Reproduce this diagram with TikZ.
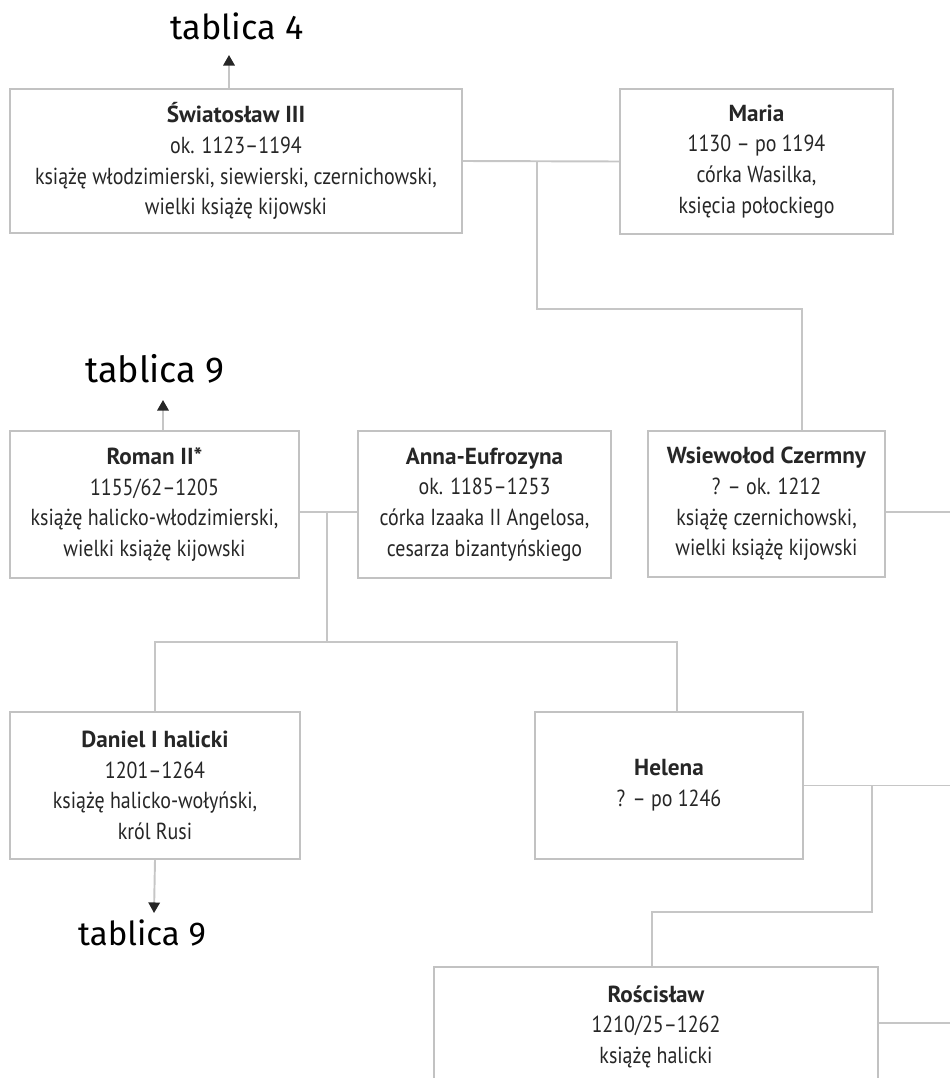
\documentclass[tikz,border=0pt]{standalone}
\usepackage{fontspec}
\setmainfont{PT Sans}[FakeStretch=0.86]
\newfontfamily\imiefont{PT Sans}
\newfontfamily\tabfont{Fira Sans}
\usetikzlibrary{arrows.meta,positioning,calc}
\definecolor{ramka}{HTML}{C2C2C2}
\definecolor{linia}{HTML}{C6C6C6}
\definecolor{tekst}{HTML}{262626}
\newcommand\imie[1]{{\imiefont\bfseries #1}}

\tikzset{
  osoba/.style={draw=ramka,line width=1.1pt,align=center,inner sep=0pt,text=tekst,
    font=\fontsize{13.2}{17.5}\selectfont},
  wiez/.style={draw=linia,line width=1.1pt},
  odsylacz/.style={wiez,-{Triangle[length=6pt,width=6.5pt,color=black!85]}},
  tablica/.style={font=\tabfont\fontsize{19.5}{19.5}\selectfont,text=black,inner sep=0pt}
}

\begin{document}
\begin{tikzpicture}[x=0.02cm,y=-0.02cm]
  \useasboundingbox (0,0) rectangle (950,1078);
  \clip (0,0) rectangle (950,1078);
  \coordinate (prawy) at (950,0);

  % pokolenie I
  \node[osoba,minimum width=9.04cm,minimum height=2.88cm] (swiat) at (236,161)
    {\imie{Światosław III}\\ok. 1123–1194\\książę włodzimierski, siewierski, czernichowski,\\wielki książę kijowski};
  \node[osoba,minimum width=5.46cm,minimum height=2.9cm] (maria) at (756.5,161.5)
    {\imie{Maria}\\1130 – po 1194\\córka Wasilka,\\księcia połockiego};
  \node[tablica,anchor=base] (t4) at (237,40) {tablica 4};

  % pokolenie II
  \node[osoba,minimum width=5.78cm,minimum height=2.94cm] (roman) at (154.5,504.5)
    {\imie{Roman II*}\\1155/62–1205\\książę halicko-włodzimierski,\\wielki książę kijowski};
  \node[osoba,minimum width=5.06cm,minimum height=2.94cm] (anna) at (484.5,504.5)
    {\imie{Anna-Eufrozyna}\\ok. 1185–1253\\córka Izaaka II Angelosa,\\cesarza bizantyńskiego};
  \node[osoba,minimum width=4.74cm,minimum height=2.92cm] (wsiew) at (766.5,504)
    {\imie{Wsiewołod Czermny}\\? – ok. 1212\\książę czernichowski,\\wielki książę kijowski};
  \node[tablica,anchor=base,font=\tabfont\fontsize{20.5}{20.5}\selectfont] (t9a) at (155,382) {tablica 9};

  % pokolenie III
  \node[osoba,minimum width=5.8cm,minimum height=2.94cm] (daniel) at (155,785.5)
    {\imie{Daniel I halicki}\\1201–1264\\książę halicko-wołyński,\\król Rusi};
  \node[osoba,minimum width=5.36cm,minimum height=2.94cm] (helena) at (669,785.5)
    {\imie{Helena}\\? – po 1246};
  \node[tablica,anchor=base,font=\tabfont\fontsize{18.8}{18.8}\selectfont] (t9b) at (142,945) {tablica 9};

  % pokolenie IV
  \node[osoba,minimum width=8.88cm,minimum height=2.92cm] (roscis) at (656,1040)
    {\imie{Rościsław}\\1210/25–1262\\książę halicki\\\mbox{}};

  % odsylacze
  \draw[odsylacz] ([xshift=-0.14cm]swiat.north) -- ([xshift=-0.16cm,yshift=-0.3cm]t4.base);
  \draw[odsylacz] ([xshift=0.17cm]roman.north) -- ([xshift=0.16cm,yshift=-0.36cm]t9a.base);
  \draw[odsylacz] (daniel.south) -- ([xshift=0.24cm,yshift=0.64cm]t9b.base);

  % malzenstwa i dzieci
  \draw[wiez] (swiat.east) -- (maria.west);
  \coordinate (m1) at ($(swiat.east)!0.475!(maria.west)$);
  \draw[wiez] (m1) |- ($(wsiew.north)+(35.5,-121)$) -- ($(wsiew.north)+(35.5,0)$);

  \draw[wiez] ($(roman.east)+(0,7.5)$) -- ($(anna.west)+(0,7.5)$);
  \coordinate (m2) at ($(roman.east)!0.47!(anna.west)+(0,7.5)$);
  \coordinate (r2) at ($(daniel.north)+(0,-69)$);
  \draw[wiez] (m2) -- (m2 |- r2);
  \draw[wiez] (daniel.north) |- ($(helena.north)+(8,-69)$) -- ($(helena.north)+(8,0)$);
  \coordinate (w1) at ($(wsiew.east)+(0,8)$);
  \draw[wiez] (w1) -- (w1 -| prawy);

  \draw[wiez] (helena.east) -- (helena.east -| prawy);
  \coordinate (m3) at ($(helena.east)+(68,0)$);
  \draw[wiez] (m3) |- ($(roscis.north)+(-4,-54)$) -- ($(roscis.north)+(-4,0)$);
  \coordinate (r1) at ($(roscis.north east)+(0,57)$);
  \draw[wiez] (r1) -- (r1 -| prawy);
\end{tikzpicture}
\end{document}
